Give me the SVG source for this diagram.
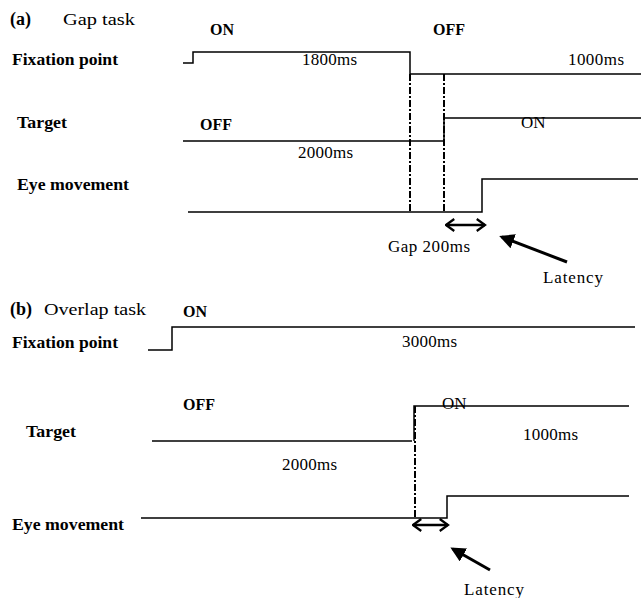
<svg xmlns="http://www.w3.org/2000/svg" width="641" height="598" viewBox="0 0 641 598">
<defs>
<style>
text{font-family:"Liberation Serif","Times New Roman",serif;fill:#000}
.b{font-weight:bold;font-size:16px}
.n{font-size:17px}
.sig{fill:none;stroke:#000;stroke-width:1.5}
.dd{fill:none;stroke:#000;stroke-width:2;stroke-dasharray:7 2 2 2}
.dbl{fill:none;stroke:#000;stroke-width:2.5;marker-start:url(#chev);marker-end:url(#chev)}
.lat{fill:none;stroke:#000;stroke-width:3;marker-end:url(#tri)}
</style>
<marker id="chev" viewBox="0 0 10 10" refX="9" refY="5" markerWidth="6" markerHeight="6" orient="auto-start-reverse" markerUnits="strokeWidth">
<path d="M3.5,1 L9,5 L3.5,9" fill="none" stroke="#000" stroke-width="1.5"/>
</marker>
<marker id="tri" viewBox="0 0 10 10" refX="8" refY="5" markerWidth="5" markerHeight="5" orient="auto" markerUnits="strokeWidth">
<path d="M0,0 L10,5 L0,10 Z" fill="#000"/>
</marker>
</defs>

<g id="panel-a-title">
<text class="b" x="10" y="25" style="font-size:18px">(a)</text>
<text x="63" y="25" style="font-size:16px" textLength="72" lengthAdjust="spacingAndGlyphs">Gap task</text>
</g>
<g id="a-labels">
<text class="b" x="12" y="65" textLength="106" lengthAdjust="spacingAndGlyphs">Fixation point</text>
<text class="b" x="17" y="128" textLength="50" lengthAdjust="spacingAndGlyphs">Target</text>
<text class="b" x="17" y="190" textLength="112" lengthAdjust="spacingAndGlyphs">Eye movement</text>
</g>
<g id="a-fixation">
<text class="b" x="210" y="35">ON</text>
<text class="b" x="433" y="35">OFF</text>
<text class="n" x="302" y="65" textLength="55" lengthAdjust="spacing">1800ms</text>
<text class="n" x="568" y="65" textLength="56" lengthAdjust="spacing">1000ms</text>
</g>
<g id="a-target">
<text class="b" x="200" y="130">OFF</text>
<text class="n" x="521" y="128">ON</text>
<text class="n" x="298" y="158" textLength="55" lengthAdjust="spacing">2000ms</text>
</g>
<g id="a-eye">
<text class="n" x="388" y="252" textLength="82" lengthAdjust="spacing">Gap 200ms</text>
<text class="n" x="543" y="283" textLength="60" lengthAdjust="spacing">Latency</text>
</g>

<g id="panel-b-title">
<text class="b" x="10" y="315" style="font-size:18px">(b)</text>
<text x="44" y="315" style="font-size:16px" textLength="102" lengthAdjust="spacingAndGlyphs">Overlap task</text>
</g>
<g id="b-labels">
<text class="b" x="12" y="348" textLength="106" lengthAdjust="spacingAndGlyphs">Fixation point</text>
<text class="b" x="26" y="437" textLength="50" lengthAdjust="spacingAndGlyphs">Target</text>
<text class="b" x="12" y="530" textLength="112" lengthAdjust="spacingAndGlyphs">Eye movement</text>
</g>
<g id="b-fixation">
<text class="b" x="183" y="317">ON</text>
<text class="n" x="402" y="347" textLength="55" lengthAdjust="spacing">3000ms</text>
</g>
<g id="b-target">
<text class="b" x="183" y="410">OFF</text>
<text class="n" x="442" y="409">ON</text>
<text class="n" x="523" y="440" textLength="55" lengthAdjust="spacing">1000ms</text>
<text class="n" x="282" y="470" textLength="55" lengthAdjust="spacing">2000ms</text>
</g>
<g id="b-eye">
<text class="n" x="464" y="595" textLength="60" lengthAdjust="spacing">Latency</text>
</g>

<g id="connectors">
<!-- panel a -->
<path class="sig" d="M183,63 H193 V52 H410 V74 H641"/>
<path class="sig" d="M183,141 H444 V118 H641"/>
<path class="sig" d="M188,212 H482 V179 H638"/>
<path class="dd" d="M410,74 V212"/>
<path class="dd" d="M444,74 V212"/>
<path class="dbl" d="M446,225 H485"/>
<path class="lat" d="M567,262 L502,237"/>
<!-- panel b -->
<path class="sig" d="M148,350 H172 V327 H635"/>
<path class="sig" d="M152,441 H412"/>
<path class="sig" d="M414,441 V406 H629"/>
<path class="sig" d="M141,518 H447 V496 H629"/>
<path class="dd" d="M415,406 V518"/>
<path class="dbl" d="M413,525 H448"/>
<path class="lat" d="M490,570 L453,549"/>
</g>
</svg>
